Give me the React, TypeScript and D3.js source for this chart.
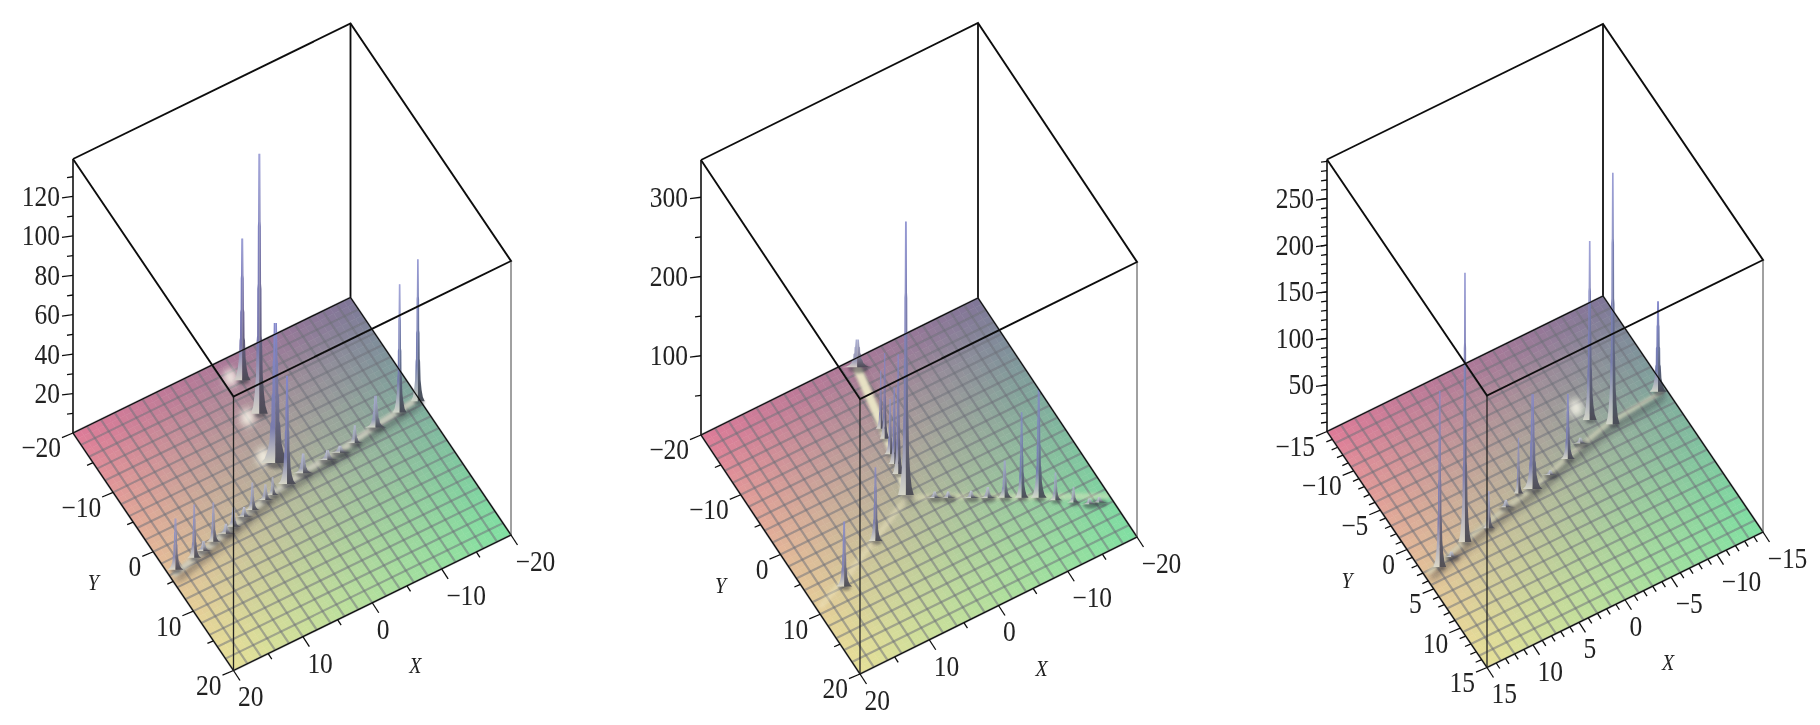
import React from "react";
import * as d3 from "d3";

// floor corner colours
const cornerBack = "#7f7598";
const cornerLeft = "#de7a98";
const cornerFront = "#e6df98";
const cornerRight = "#80dfa2";
const gridCells = 20;
const shadeCells = 40;

// left panel
const p1PeakX = [-2.2, -1.6, 0.26, 0.54, -16.9, -19.7, 18.9, 16, 12.76, 9.5, 6.2, 4.05, 2.9, -2, -5.6, -9.8, -13.2, -7.5, 14.5, 10.8, 7.6];
const p1PeakY = [-16.2, -10.9, -3.7, -0.3, -2.4, -2.7, 3.64, 3.3, 2.46, 1.8, 0.84, 0.38, 0.18, -0.68, -0.83, -1.3, -2, -1, 3, 2.2, 1.2];
const p1PeakZ = [72, 132, 71, 55, 65, 72, 26, 27, 20, 10, 14, 8, 9, 10, 5, 9, 16, 3.5, 5, 5, 5];
const p1Spread = [0.17, 0.17, 0.3, 0.18, 0.14, 0.14, 0.16, 0.14, 0.14, 0.17, 0.15, 0.17, 0.13, 0.22, 0.25, 0.17, 0.22, 0.25, 0.2, 0.2, 0.2];
const p1RidgeX = [19.5, 14, 8, 3, -3, -8, -14, -19.6];
const p1RidgeY = [4.4, 3.1, 1.5, 0.2, -0.7, -1.1, -2.1, -2.8];
const p1FaintX = [];
const p1FaintY = [];
const p1GlowX = [-1.1, -0.06, 1.1];
const p1GlowY = [-17.3, -11.2, -5.2];

// middle panel, the main arm is bright and the other two arms are faint
const p2PeakX = [-1.88, 2.07, 0.31, 0.02, 0.84, 1.39, 1.1, 8.7, 15.4, -8.46, -10.3, -12.15, -13.8, -15.6, -0.84, -2.3, -4.8, -6.6, -17.2, -18.4];
const p2PeakY = [-18.8, 0.3, -8.1, -9.6, -5.8, -2.8, -4.3, 4.2, 8, 6.82, 7.87, 8.95, 10.3, 11.7, 2.48, 3.3, 4.75, 5.8, 12.9, 13.3];
const p2PeakZ = [35, 345, 108, 73, 70, 151, 97, 93, 82, 47, 108, 137, 35, 20, 8, 8, 9, 14, 7, 7];
const p2Spread = [0.3, 0.16, 0.1, 0.1, 0.12, 0.12, 0.12, 0.14, 0.16, 0.16, 0.14, 0.16, 0.14, 0.14, 0.2, 0.2, 0.2, 0.2, 0.2, 0.2];
const p2RidgeX = [-1.9, -0.6, 0.6, 2.1];
const p2RidgeY = [-18.8, -11, -4, 1];
const p2FaintX = [-19.9, -10, -4, 2.1, 8, 14, 19.6];
const p2FaintY = [13.4, 7.9, 4.4, 1, 3.9, 7, 9.4];
const p2GlowX = [];
const p2GlowY = [];

// right panel
const p3PeakX = [13.3, 9.86, 7.16, 2.82, 1.41, -3.12, -7.06, -8.7, -14.2, 11.8, 4.6, -0.8, -5];
const p3PeakY = [3.2, 2, 1.8, -0.11, 0.11, -1.1, -3.8, -2.3, -3.3, 2.8, 0.6, -0.4, -2];
const p3PeakZ = [189, 289, 40, 60, 102, 70, 192, 270, 97, 6, 8, 5, 6];
const p3Spread = [0.13, 0.13, 0.13, 0.1, 0.2, 0.14, 0.14, 0.14, 0.17, 0.2, 0.2, 0.2, 0.2];
const p3RidgeX = [14.6, 10, 5, 1, -3, -8, -14.6];
const p3RidgeY = [3.4, 2.1, 0.9, 0.1, -1.1, -2.4, -3];
const p3FaintX = [];
const p3FaintY = [];
const p3GlowX = [-6.6];
const p3GlowY = [-5.6];

const p1ZMajor = [20, 40, 60, 80, 100, 120];
const p1ZMinor = [10, 30, 50, 70, 90, 110, 130];
const p2ZMajor = [100, 200, 300];
const p2ZMinor = [50, 150, 250];
const p3ZMajor = [50, 100, 150, 200, 250];
const p3ZMinor = d3.range(10, 291, 10);
const wideMajor = [-20, -10, 0, 10, 20];
const wideMinor = [-15, -5, 5, 15];
const narrowMajor = [-15, -10, -5, 0, 5, 10, 15];
const narrowMinor = d3.range(-15, 16).filter((d) => d % 5 !== 0);

// how a spike narrows from tip to foot, stepped like a coarse mesh
const profileLevel = [1, 0.74, 0.72, 0.5, 0.48, 0.3, 0.28, 0.15, 0.08, 0.03, 0];
const profileWidth = [0.6, 0.8, 1, 1.1, 1.4, 1.5, 1.8, 2.2, 3, 4, 5.5];

const panels = [
  {
    id: "a", range: 20, zMax: 139,
    left: [73, 433], front: [233.5, 670.5], right: [511, 535], top: 274, ridgeWidth: 6, ridgeAlpha: 0.85,
    peakX: p1PeakX, peakY: p1PeakY, peakZ: p1PeakZ, spread: p1Spread,
    ridgeX: p1RidgeX, ridgeY: p1RidgeY, faintX: p1FaintX, faintY: p1FaintY, glowX: p1GlowX, glowY: p1GlowY,
    zMajor: p1ZMajor, zMinor: p1ZMinor, major: wideMajor, minor: wideMinor, ridgeLight: "#cfcfc0",
  },
  {
    id: "b", range: 20, zMax: 347,
    left: [701, 435], front: [860, 674], right: [1137, 537], top: 275, ridgeWidth: 9, ridgeAlpha: 0.9,
    peakX: p2PeakX, peakY: p2PeakY, peakZ: p2PeakZ, spread: p2Spread,
    ridgeX: p2RidgeX, ridgeY: p2RidgeY, faintX: p2FaintX, faintY: p2FaintY, glowX: p2GlowX, glowY: p2GlowY,
    zMajor: p2ZMajor, zMinor: p2ZMinor, major: wideMajor, minor: wideMinor, ridgeLight: "#f2eecc",
  },
  {
    id: "c", range: 15, zMax: 292,
    left: [1327, 431.5], front: [1487, 667.5], right: [1763, 532], top: 272, ridgeWidth: 5, ridgeAlpha: 0.65,
    peakX: p3PeakX, peakY: p3PeakY, peakZ: p3PeakZ, spread: p3Spread,
    ridgeX: p3RidgeX, ridgeY: p3RidgeY, faintX: p3FaintX, faintY: p3FaintY, glowX: p3GlowX, glowY: p3GlowY,
    zMajor: p3ZMajor, zMinor: p3ZMinor, major: narrowMajor, minor: narrowMinor, ridgeLight: "#d6d6bc",
  },
];

const label = (v) => String(v).replace("-", "\u2212");
const fontFamily = "'Liberation Serif', serif";

// the reference text is a little stretched upright
const Tall = ({ x, y, anchor, size, italic, children }) => (
  <text
    transform={`translate(${x},${y}) scale(1,1.12)`}
    textAnchor={anchor}
    fontSize={size}
    fontStyle={italic ? "italic" : undefined}
    dominantBaseline="central"
  >
    {children}
  </text>
);

function Panel({ p }) {
  const r = p.range;
  const across = d3.scaleLinear().domain([r, -r]).range([0, 1]);
  const along = d3.scaleLinear().domain([r, -r]).range([0, 1]);
  const rise = d3.scaleLinear().domain([0, p.zMax]).range([0, p.top]);
  const ax = [p.right[0] - p.front[0], p.right[1] - p.front[1]];
  const bx = [p.left[0] - p.front[0], p.left[1] - p.front[1]];
  const project = (x, y, z = 0) => [
    p.front[0] + across(x) * ax[0] + along(y) * bx[0],
    p.front[1] + across(x) * ax[1] + along(y) * bx[1] - rise(z),
  ];
  const back = project(-r, -r);
  const line = d3.line();
  const nearX = d3.interpolateRgb(cornerFront, cornerRight);
  const farX = d3.interpolateRgb(cornerLeft, cornerBack);
  const floorAt = (x, y) =>
    d3.interpolateRgb(nearX(across(x)), farX(across(x)))(Math.pow(along(y), 1.3));

  const step = (2 * r) / shadeCells;
  const cells = d3.range(shadeCells).flatMap((i) =>
    d3.range(shadeCells).map((j) => {
      const x0 = -r + i * step;
      const y0 = -r + j * step;
      return {
        key: i + "-" + j,
        d: line([project(x0, y0), project(x0 + step, y0), project(x0 + step, y0 + step), project(x0, y0 + step)]) + "Z",
        fill: floorAt(x0 + step / 2, y0 + step / 2),
      };
    })
  );
  const gridValues = d3.range(gridCells + 1).map((i) => -r + (i * 2 * r) / gridCells);

  const ridgePath = line(p.ridgeX.map((x, i) => project(x, p.ridgeY[i])));
  const faintPath = p.faintX.length ? line(p.faintX.map((x, i) => project(x, p.faintY[i]))) : null;

  const peaks = p.peakX
    .map((x, i) => ({ x, y: p.peakY[i], z: p.peakZ[i], s: p.spread[i], i }))
    .sort((a, b) => project(a.x, a.y)[1] - project(b.x, b.y)[1]);

  const spikeArea = (side, peak) => {
    const [cx, cy] = project(peak.x, peak.y);
    const hw = (k) => peak.s * 9 * k;
    return d3
      .area()
      .y((d, i) => cy - rise(peak.z) * profileLevel[i])
      .x0((d, i) => (side < 0 ? cx - hw(profileWidth[i]) : cx))
      .x1((d, i) => (side < 0 ? cx : cx + hw(profileWidth[i])))(profileLevel);
  };

  const corner = (pt, h = 0) => [pt[0], pt[1] - h];
  const t = p.top;
  const zTickBase = (z) => [p.left[0], p.left[1] - rise(z)];
  const yEdge = (y) => project(r, y);
  const xEdge = (x) => project(x, r);

  return (
    <g filter="url(#soft)">
      <path d={line([corner(back), corner(back, t)])} stroke="#111" strokeWidth={1.8} fill="none" />
      {cells.map((c) => (
        <path key={c.key} d={c.d} fill={c.fill} stroke={c.fill} strokeWidth={0.6} />
      ))}
      <g stroke="#6e7078" strokeOpacity={0.52} strokeWidth={2.2} fill="none">
        {gridValues.map((v) => (
          <path key={"gx" + v} d={line([project(v, -r), project(v, r)])} />
        ))}
        {gridValues.map((v) => (
          <path key={"gy" + v} d={line([project(-r, v), project(r, v)])} />
        ))}
      </g>
      {p.glowX.map((x, i) => {
        const [gx, gy] = project(x, p.glowY[i]);
        return <ellipse key={"glow" + i} cx={gx} cy={gy} rx={7} ry={9} fill="#fffdf0" opacity={0.8} filter="url(#wide)" />;
      })}
      {faintPath && (
        <path d={faintPath} transform="translate(-1,-2)" stroke="#efe9c4" strokeOpacity={0.4} strokeWidth={6} fill="none" filter="url(#mid)" />
      )}
      <path d={ridgePath} transform="translate(2,4)" stroke="#34343e" strokeOpacity={0.55} strokeWidth={6} fill="none" filter="url(#wide)" />
      <path d={ridgePath} transform="translate(-1,-1)" stroke={p.ridgeLight} strokeOpacity={p.ridgeAlpha} strokeWidth={p.ridgeWidth} fill="none" filter="url(#mid)" />

      {peaks.map((k) => {
        const [cx, cy] = project(k.x, k.y);
        const foot = floorAt(k.x, k.y);
        const tall = Math.min(1, k.z / (p.zMax * 0.25));
        const tip = d3.interpolateRgb("#c6cad6", "#8488cc")(tall);
        const body = d3.interpolateRgb("#9a9ca6", d3.interpolateRgb("#5f6198", foot)(0.25))(tall);
        const dark = d3.interpolateRgb("#43434f", foot)(0.1);
        const pale = d3.interpolateRgb("#dcdcd0", foot)(0.15);
        const gid = p.id + "s" + k.i;
        const footR = Math.max(3, Math.min(10, k.s * 36));
        return (
          <g key={gid}>
            <defs>
              <linearGradient id={gid + "l"} x1="0" y1="0" x2="0" y2="1">
                <stop offset="0" stopColor={tip} />
                <stop offset="0.75" stopColor={d3.interpolateRgb(tip, body)(0.6)} />
                <stop offset="1" stopColor={pale} />
              </linearGradient>
              <linearGradient id={gid + "r"} x1="0" y1="0" x2="0" y2="1">
                <stop offset="0" stopColor={tip} />
                <stop offset="0.55" stopColor={body} />
                <stop offset="1" stopColor={dark} />
              </linearGradient>
            </defs>
            <ellipse cx={cx + 1} cy={cy + 1} rx={footR} ry={footR * 0.5} fill="#33333d" opacity={0.5} filter="url(#mid)" />
            <path d={spikeArea(-1, k)} fill={`url(#${gid}l)`} />
            <path d={spikeArea(1, k)} fill={`url(#${gid}r)`} />
          </g>
        );
      })}

      <g stroke="#111" fill="none">
        <path d={line([p.left, back, p.right, p.front, p.left])} strokeWidth={1.3} />
        <path d={line([corner(p.left), corner(p.left, t)])} strokeWidth={1.6} />
        <path d={line([corner(p.front), corner(p.front, t)])} strokeWidth={1.3} stroke="#222" />
        <path d={line([corner(p.right), corner(p.right, t)])} strokeWidth={1} stroke="#444" />
        <path
          d={line([corner(p.left, t), corner(back, t), corner(p.right, t), corner(p.front, t), corner(p.left, t)])}
          strokeWidth={1.9}
        />
        {p.zMajor.map((z) => {
          const [bx0, by0] = zTickBase(z);
          return <path key={"zM" + z} d={line([[bx0, by0], [bx0 - 11, by0 + 1.4]])} strokeWidth={1.3} />;
        })}
        {p.zMinor.map((z) => {
          const [bx0, by0] = zTickBase(z);
          return <path key={"zm" + z} d={line([[bx0, by0], [bx0 - 6, by0 + 0.8]])} strokeWidth={1.3} />;
        })}
        {p.major.map((v) => {
          const [yx, yy] = yEdge(v);
          const [xx, xy] = xEdge(v);
          return (
            <g key={"M" + v} strokeWidth={1.3}>
              <path d={line([[yx, yy], [yx - 11, yy + 4.6]])} />
              <path d={line([[xx, xy], [xx + 6.5, xy + 10]])} />
            </g>
          );
        })}
        {p.minor.map((v) => {
          const [yx, yy] = yEdge(v);
          const [xx, xy] = xEdge(v);
          return (
            <g key={"m" + v} strokeWidth={1.3}>
              <path d={line([[yx, yy], [yx - 6, yy + 2.6]])} />
              <path d={line([[xx, xy], [xx + 3.6, xy + 5.5]])} />
            </g>
          );
        })}
      </g>

      <g fontFamily={fontFamily} fill="#222">
        {p.zMajor.map((z) => (
          <Tall key={"zl" + z} x={p.left[0] - 13} y={zTickBase(z)[1]} anchor="end" size={25.5}>{label(z)}</Tall>
        ))}
        {p.major.map((v) => (
          <Tall key={"yl" + v} x={yEdge(v)[0] - 12} y={yEdge(v)[1] + 15} anchor="end" size={25.5}>{label(v)}</Tall>
        ))}
        {p.major.map((v) => (
          <Tall key={"xl" + v} x={xEdge(v)[0] + 4.5} y={xEdge(v)[1] + 26.5} anchor="start" size={25.5}>{label(v)}</Tall>
        ))}
        <Tall x={yEdge(0)[0] - 60} y={yEdge(0)[1] + 31} anchor="middle" size={20} italic>Y</Tall>
        <Tall x={xEdge(0)[0] + 43} y={xEdge(0)[1] + 63} anchor="middle" size={20} italic>X</Tall>
      </g>
    </g>
  );
}

export default function App() {
  return (
    <svg width={1820} height={725} style={{ position: "absolute", left: 0, top: 0, display: "block", background: "#fff" }}>
      <defs>
        <filter id="soft" x="-5%" y="-5%" width="110%" height="110%">
          <feGaussianBlur stdDeviation="0.7" />
        </filter>
        <filter id="mid" x="-50%" y="-50%" width="200%" height="200%">
          <feGaussianBlur stdDeviation="1.6" />
        </filter>
        <filter id="wide" x="-60%" y="-60%" width="220%" height="220%">
          <feGaussianBlur stdDeviation="3.5" />
        </filter>
      </defs>
      {panels.map((p) => (
        <Panel key={p.id} p={p} />
      ))}
    </svg>
  );
}
